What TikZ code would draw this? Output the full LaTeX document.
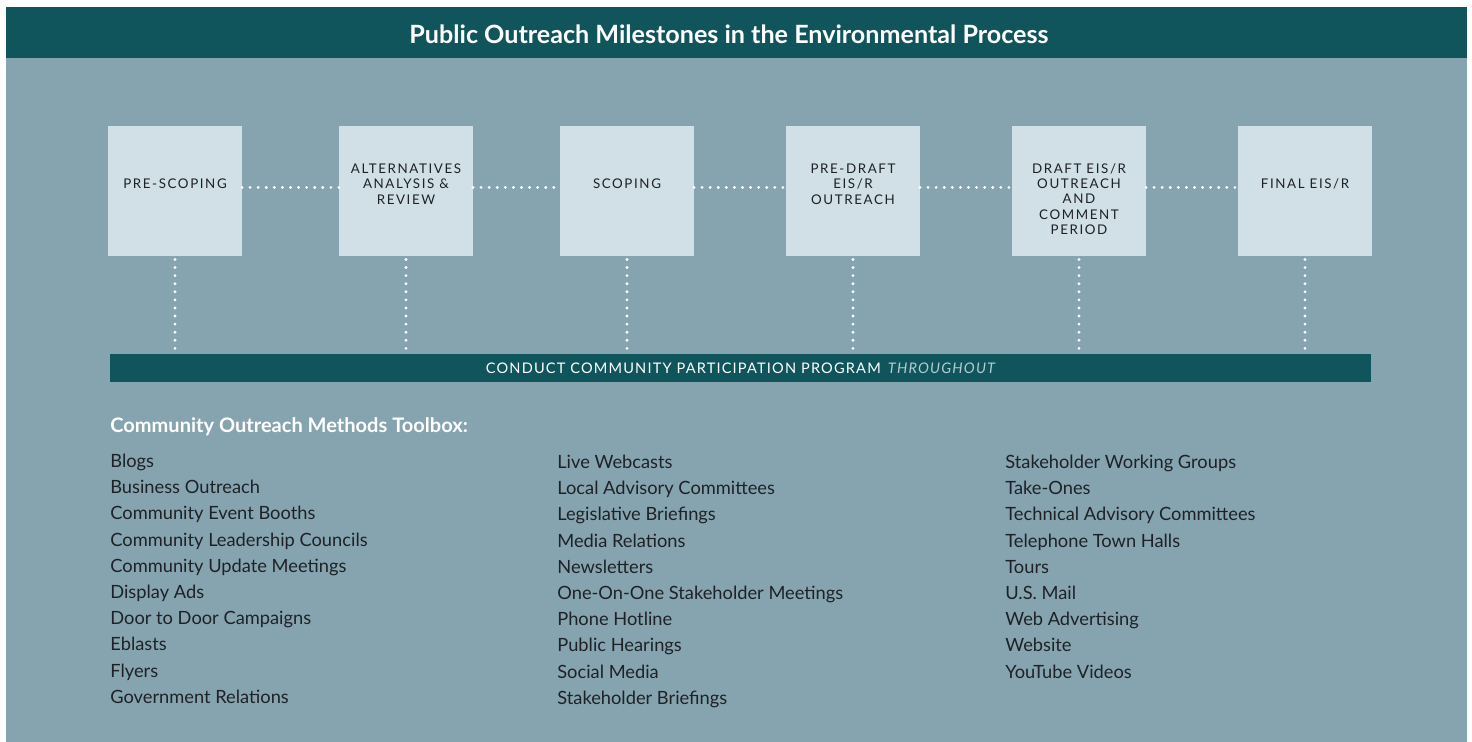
\documentclass[tikz,border=0pt]{standalone}
\usepackage{fontspec}
\setmainfont{Lato}
\definecolor{darkteal}{HTML}{10555C}
\definecolor{panelblue}{HTML}{86A4B0}
\definecolor{boxgray}{HTML}{D0E0E6}
\definecolor{inktext}{HTML}{1E2226}
\definecolor{palelabel}{HTML}{B5CCD3}

\begin{document}
\begin{tikzpicture}[x=0.02cm, y=-0.02cm,
  stepbox/.style={fill=boxgray, minimum width=2.68cm, minimum height=2.6cm, inner sep=0pt, outer sep=0pt},
  steptext/.style={text=inktext, align=center, inner sep=0pt, font=\fontsize{7.6}{8.7}\selectfont\addfontfeature{LetterSpace=12}},
  dotline/.style={white, line width=1.8pt, line cap=round, dash pattern=on 0pt off 4.6pt},
  item/.style={anchor=mid west, inner sep=0pt, text=inktext, font=\fontsize{10.4}{12}\selectfont}]
\useasboundingbox (0,0) rectangle (1472,742);
\fill[white] (0,0) rectangle (1472,742);

% panel and title bar
\fill[panelblue] (6,7) rectangle (1467,742);
\fill[darkteal] (6,7) rectangle (1467,58);
\node[text=white, font=\bfseries\fontsize{14.3}{16}\selectfont] (title) at (729,34) {Public Outreach Milestones in the Environmental Process};

% milestone boxes
\node[stepbox] (b1) at (175,191) {};
\node[stepbox] (b2) at (406,191) {};
\node[stepbox] (b3) at (627,191) {};
\node[stepbox] (b4) at (853,191) {};
\node[stepbox] (b5) at (1079,191) {};
\node[stepbox] (b6) at (1305,191) {};

\node[steptext] (t1) at (175,184) {PRE-SCOPING};
\node[steptext] (t2) at (406,184) {ALTERNATIVES\\ANALYSIS \&\\REVIEW};
\node[steptext] (t3) at (627,184) {SCOPING};
\node[steptext] (t4) at (853,184) {PRE-DRAFT\\EIS/R\\OUTREACH};
\node[steptext] (t5) at (1079,199) {DRAFT EIS/R\\OUTREACH\\AND\\COMMENT\\PERIOD};
\node[steptext] (t6) at (1305,184) {FINAL EIS/R};

% participation bar
\node[fill=darkteal, minimum width=25.22cm, minimum height=0.56cm, inner sep=0pt, text=white,
  font=\fontsize{8.3}{9}\selectfont\addfontfeature{LetterSpace=8}] (bar) at (740.5,368)
  {CONDUCT COMMUNITY PARTICIPATION PROGRAM\enspace\textcolor{palelabel}{\itshape THROUGHOUT}};

% dotted connectors
\foreach \a/\b in {b1/b2, b2/b3, b3/b4, b4/b5, b5/b6}
  \draw[dotline] ([yshift=2pt]\a.east) -- ([yshift=2pt]\b.west);
\foreach \a in {b1, b2, b3, b4, b5, b6}
  \draw[dotline] ([yshift=-2pt]\a.south) -- (\a.south |- bar.north);

% toolbox
\node[anchor=mid west, inner sep=0pt, text=white, font=\bfseries\fontsize{11.4}{13}\selectfont] (toolbox) at (110,428) {Community Outreach Methods Toolbox:};

\foreach \t [count=\i from 0] in {Blogs, Business Outreach, Community Event Booths, Community Leadership Councils, Community Update Meetings, Display Ads, Door to Door Campaigns, Eblasts, Flyers, Government Relations}
  \node[item] (tool1-\i) at (110,463+26.2*\i) {\t};
\foreach \t [count=\i from 0] in {Live Webcasts, Local Advisory Committees, Legislative Briefings, Media Relations, Newsletters, One-On-One Stakeholder Meetings, Phone Hotline, Public Hearings, Social Media, Stakeholder Briefings}
  \node[item] (tool2-\i) at (557,464+26.2*\i) {\t};
\foreach \t [count=\i from 0] in {Stakeholder Working Groups, Take-Ones, Technical Advisory Committees, Telephone Town Halls, Tours, U.S. Mail, Web Advertising, Website, YouTube Videos}
  \node[item] (tool3-\i) at (1005,464+26.2*\i) {\t};
\end{tikzpicture}
\end{document}
